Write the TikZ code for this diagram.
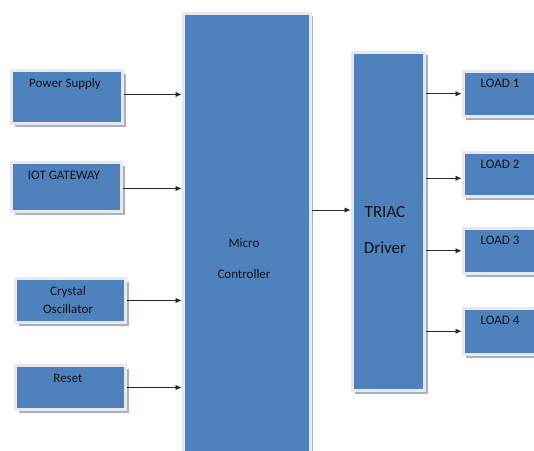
\documentclass[tikz,border=0pt]{standalone}
\usepackage{fontspec}
\setmainfont{Carlito}
\usetikzlibrary{arrows.meta,shadows,calc}

\definecolor{boxblue}{HTML}{4F81BD}
\definecolor{boxedge}{HTML}{E6EAF0}
\definecolor{boxshade}{HTML}{A9B1C0}
\definecolor{inktext}{HTML}{10141B}

\tikzset{
  block/.style={rectangle, fill=boxblue, draw=boxedge, line width=3pt,
    inner sep=0pt, anchor=north west,
    drop shadow={shadow xshift=3pt, shadow yshift=-3pt, fill=boxshade, opacity=1}},
  lbl/.style={inner sep=0pt, text=inktext, font=\fontsize{13}{15}\selectfont,
    text height=9pt, text depth=3pt},
  biglbl/.style={lbl, font=\fontsize{17}{20}\selectfont, text height=12pt, text depth=4pt},
  arr/.style={draw=black!85, line width=0.9pt, -{Latex[length=6pt,width=5.5pt]}},
}

\begin{document}
\begin{tikzpicture}[x=1pt, y=-1pt]
  \clip (0,0) rectangle (534,450);
  \fill[white] (0,0) rectangle (534,450);

  % input blocks
  \node[block, minimum width=111pt, minimum height=53pt] (ps)   at (10,69)  {};
  \node[block, minimum width=110pt, minimum height=49pt] (iot)  at (10,161) {};
  \node[block, minimum width=110pt, minimum height=44pt] (xtal) at (14,277) {};
  \node[block, minimum width=110pt, minimum height=44pt] (rst)  at (14,364) {};

  % controller and driver
  \node[block, minimum width=127pt, minimum height=470pt] (mc) at (181.5,11.5) {};
  \node[block, minimum width=72.5pt, minimum height=338.5pt] (tr) at (350.5,50.5) {};

  % loads
  \node[block, minimum width=100pt, minimum height=45.5pt] (l1) at (461.5,69.5)  {};
  \node[block, minimum width=100pt, minimum height=44.5pt] (l2) at (461.5,150.5) {};
  \node[block, minimum width=100pt, minimum height=45.5pt] (l3) at (461.5,226.5) {};
  \node[block, minimum width=100pt, minimum height=46.5pt] (l4) at (461.5,306.5) {};

  % labels
  \node[lbl] (tps)   at (65,84)   {Power Supply};
  \node[lbl] (tiot)  at (64,176)  {IOT GATEWAY};
  \node[lbl] (txa)   at (68,292)  {Crystal};
  \node[lbl] (txb)   at (68,310)  {Oscillator};
  \node[lbl] (trst)  at (68,379)  {Reset};
  \node[lbl] (tmca)  at (244,244) {Micro};
  \node[lbl] (tmcb)  at (244,275) {Controller};
  \node[biglbl] (ttra) at (385,213) {TRIAC};
  \node[biglbl] (ttrb) at (385,249) {Driver};
  \node[lbl] (tl1) at (500,84)  {LOAD 1};
  \node[lbl] (tl2) at (500,165) {LOAD 2};
  \node[lbl] (tl3) at (500,241) {LOAD 3};
  \node[lbl] (tl4) at (500,321) {LOAD 4};

  % inputs into the controller
  \draw[arr] ($(ps.east)+(0,-2.5)$)   -- ($(ps.east -| mc.west)+(0,-2.5)$);
  \draw[arr] ($(iot.east)+(0,1.5)$)   -- ($(iot.east -| mc.west)+(0,1.5)$);
  \draw[arr] (xtal.east) -- (xtal.east -| mc.west);
  \draw[arr] (rst.east)  -- (rst.east -| mc.west);

  % controller to driver
  \coordinate (m2t) at (330,210);
  \draw[arr] (m2t -| mc.east) -- (m2t -| tr.west);

  % driver to loads
  \draw[arr] (tr.east |- l1.west) -- (l1.west);
  \draw[arr] ($(tr.east |- l2.west)+(0,4)$) -- ($(l2.west)+(0,4)$);
  \draw[arr] (tr.east |- l3.west) -- (l3.west);
  \draw[arr] (tr.east |- l4.west) -- (l4.west);
\end{tikzpicture}
\end{document}
